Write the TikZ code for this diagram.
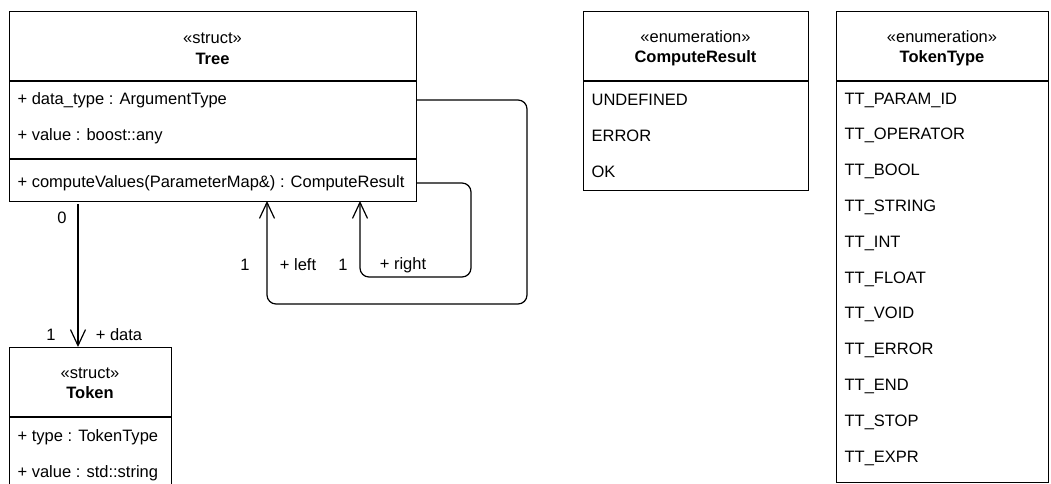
\documentclass[tikz,border=0pt]{standalone}
\usepackage{fontspec}
\setmainfont{Liberation Sans}
\usepackage{tikz}
\usetikzlibrary{positioning,arrows.meta}

\begin{document}
\begin{tikzpicture}[x=1pt,y=-1pt,line width=1.2pt,
  font=\fontsize{16.5}{19}\selectfont,
  umlbox/.style={draw,rectangle,inner sep=0pt,anchor=north west},
  stereo/.style={inner sep=0pt,anchor=center},
  cname/.style={inner sep=0pt,anchor=center,font=\fontsize{16.5}{19}\selectfont\bfseries},
  attr/.style={inner sep=0pt,anchor=west},
  lbl/.style={inner sep=0pt,anchor=center},
  assoc/.style={draw,-{Straight Barb[length=16pt,width=15pt,line width=1.2pt]},rounded corners=9pt}]
  \useasboundingbox (0,0) rectangle (1051,484);
  % Tree
  \node[umlbox,minimum width=407pt,minimum height=190pt] (tree) at (9,11) {};
  \node[stereo] (treest) at (212.5,38) {«struct»};
  \node[cname] (treenm) at (212.5,59) {Tree};
  \draw (9,81) -- (416,81);
  \draw (9,159) -- (416,159);
  \node[attr] (dtype) at (17,100) {+ data\_type : ArgumentType};
  \node[attr] (tval) at (17,136) {+ value : boost::any};
  \node[attr] (cval) at (17,183) {+ computeValues(ParameterMap\&) : ComputeResult};
  % Token
  \node[umlbox,minimum width=162pt,minimum height=160pt] (token) at (9,347) {};
  \node[stereo] (tokst) at (90,373) {«struct»};
  \node[cname] (toknm) at (90,393) {Token};
  \draw (9,417) -- (171,417);
  \node[attr] (ttype) at (17,437) {+ type : TokenType};
  \node[attr] (tkval) at (17,473) {+ value : std::string};
  % ComputeResult
  \node[umlbox,minimum width=225pt,minimum height=179pt] (cres) at (583,11) {};
  \node[stereo] (crst) at (695.5,37) {«enumeration»};
  \node[cname] (crnm) at (695.5,58) {ComputeResult};
  \draw (583,81) -- (808,81);
  \foreach \v [count=\i from 0] in {UNDEFINED,ERROR,OK}
    \node[attr] (cr\i) at (591,100+36*\i) {\v};
  % TokenType
  \node[umlbox,minimum width=212pt,minimum height=471pt] (ttyp) at (836,11) {};
  \node[stereo] (ttst) at (942,37) {«enumeration»};
  \node[cname] (ttnm) at (942,58) {TokenType};
  \draw (836,81) -- (1048,81);
  \foreach \v [count=\i from 0] in {PARAM\_ID,OPERATOR,BOOL,STRING,INT,FLOAT,VOID,ERROR,END,STOP,EXPR}
    \node[attr] (tt\i) at (844,100+35.8*\i) {TT\_\v};
  % associations
  \coordinate (dsrc) at (78,204);
  \draw[assoc] (dsrc) -- (dsrc |- token.north);
  \node[lbl] (d0) at (62,218) {0};
  \node[lbl] (d1) at (51,335) {1};
  \node[lbl] (dnm) at (119,335) {+ data};
  \coordinate (lend) at (267,201);
  \coordinate (rend) at (360,201);
  \draw[assoc] (tree.east |- dtype) -| (527,304) -| (lend);
  \draw[assoc] (tree.east |- cval) -| (471,277) -| (rend);
  \node[lbl] (l1) at (245,265) {1};
  \node[lbl] (lnm) at (298,265) {+ left};
  \node[lbl] (r1) at (343,265) {1};
  \node[lbl] (rnm) at (403,265) {+ right};
\end{tikzpicture}
\end{document}
